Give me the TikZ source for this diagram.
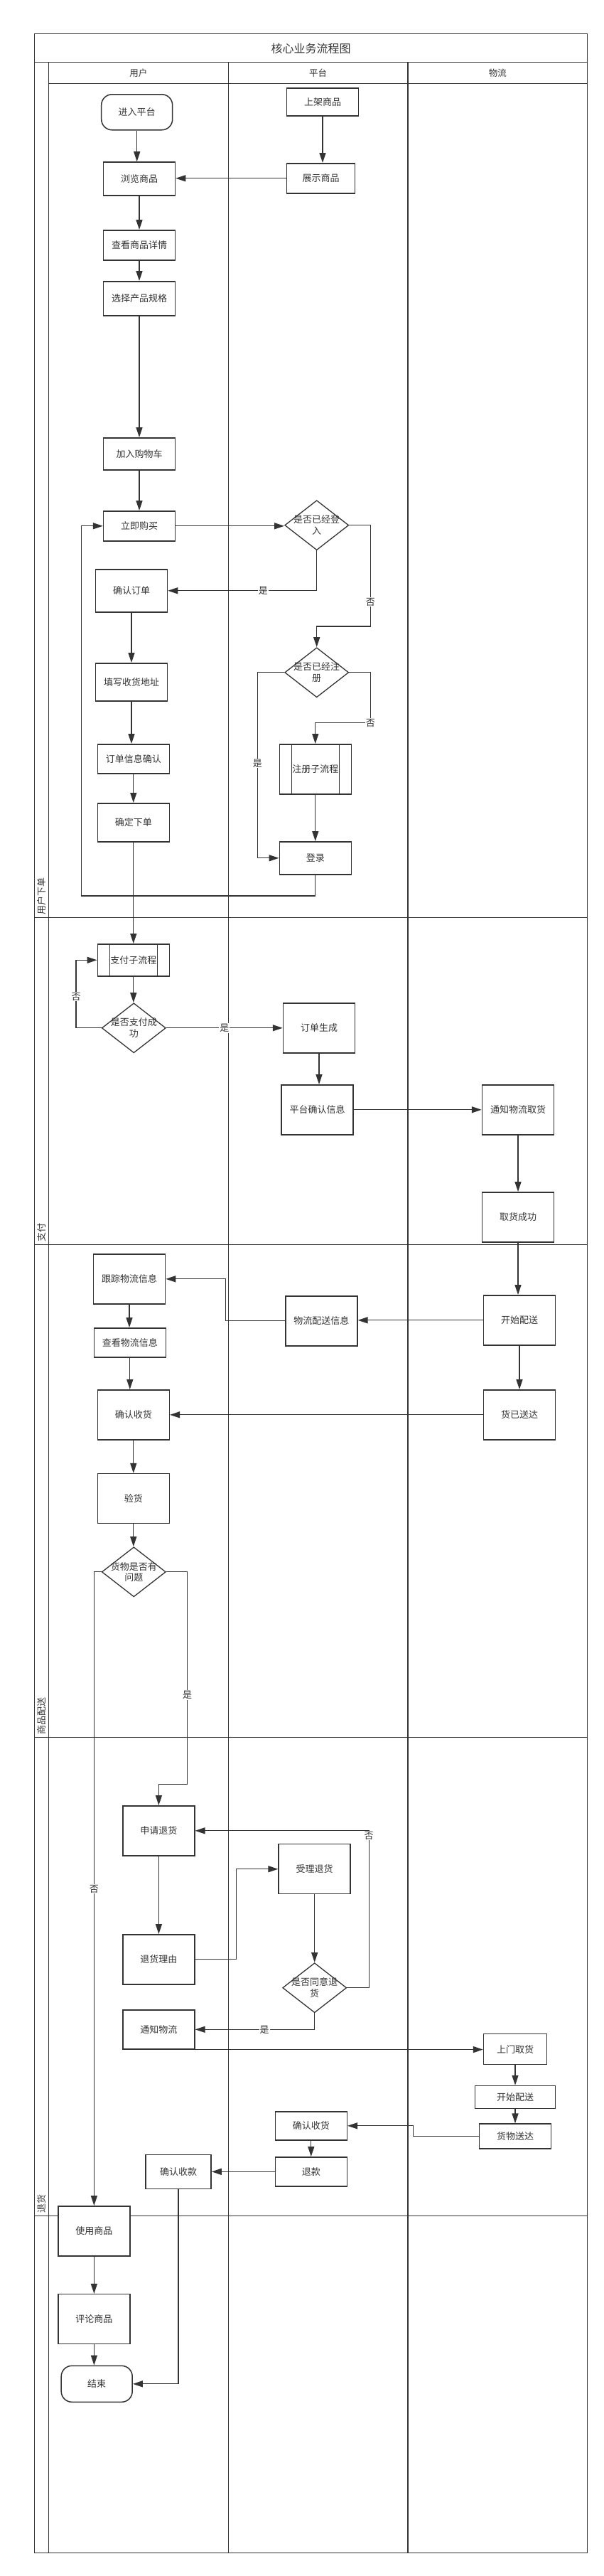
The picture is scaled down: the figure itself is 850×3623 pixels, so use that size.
\documentclass[tikz,border=0pt]{standalone}
\usepackage{fontspec}
\setmainfont{Noto Sans CJK SC}
\usepackage{tikz}
\usetikzlibrary{arrows.meta,shapes.geometric}
\definecolor{linegray}{HTML}{333333}
\tikzstyle{frame}=[draw=linegray,line width=1.3pt]
\tikzstyle{box}=[rectangle,draw=linegray,line width=1.5pt,fill=white,text=linegray,minimum width=101pt,minimum height=70pt,inner sep=0pt,font=\fontsize{13pt}{15.5pt}\selectfont]
\tikzstyle{term}=[box,rounded corners=15pt,minimum width=100pt,minimum height=50pt]
\tikzstyle{sub}=[box,path picture={\draw[linegray,line width=1.2pt] ([xshift=17pt]path picture bounding box.north west) -- ([xshift=17pt]path picture bounding box.south west) ([xshift=-17pt]path picture bounding box.north east) -- ([xshift=-17pt]path picture bounding box.south east);}]
\tikzstyle{decision}=[diamond,draw=linegray,line width=1.3pt,fill=white,minimum width=90pt,minimum height=70pt,inner sep=0pt]
\tikzstyle{dtext}=[align=center,text=linegray,inner sep=0pt,font=\fontsize{13pt}{15.5pt}\selectfont]
\tikzstyle{lbl}=[fill=white,inner sep=1pt,text=linegray,font=\fontsize{13pt}{15pt}\selectfont]
\tikzstyle{line}=[draw=linegray,line width=1.3pt,-{Triangle[length=14pt,width=9pt]}]
\tikzstyle{lane}=[text=linegray,font=\fontsize{12.5pt}{15pt}\selectfont]
\tikzstyle{phase}=[rotate=90,anchor=west,inner sep=0pt,text=linegray,font=\fontsize{13pt}{15pt}\selectfont]
\begin{document}
\begin{tikzpicture}[x=1pt,y=-1pt]
  \useasboundingbox (0,0) rectangle (850,3623);
  % frame
  \draw[frame] (48.2,47.7) rectangle (826.8,3590.7);
  \draw[frame] (48.2,87.7) -- (826.8,87.7);
  \draw[frame] (68.5,117.7) -- (826.8,117.7);
  \draw[frame] (68.5,87.7) -- (68.5,3590.7);
  \draw[frame] (321.3,87.7) -- (321.3,3590.7);
  \draw[frame] (574,87.7) -- (574,3590.7);
  \draw[frame] (48.2,1290.7) -- (826.8,1290.7);
  \draw[frame] (48.2,1750.7) -- (826.8,1750.7);
  \draw[frame] (48.2,2443.7) -- (826.8,2443.7);
  \draw[frame] (48.2,3116.7) -- (826.8,3116.7);
  % headers
  \node[lane,font=\fontsize{16pt}{18pt}\selectfont] (title) at (437.5,68) {核心业务流程图};
  \node[lane] (user) at (194.9,103) {用户};
  \node[lane] (platform) at (447.6,103) {平台};
  \node[lane] (logistics) at (700.4,103) {物流};
  \node[phase] (ph1) at (58.4,1287) {用户下单};
  \node[phase] (ph2) at (58.4,1747) {支付};
  \node[phase] (ph3) at (58.4,2440) {商品配送};
  \node[phase] (ph4) at (58.4,3113) {退货};
  % user lane
  \node[term] (enter) at (192.7,157.8) {进入平台};
  \node[box,minimum height=47pt] (browse) at (196,251.5) {浏览商品};
  \node[box,minimum height=42pt] (detail) at (196,344.8) {查看商品详情};
  \node[box,minimum height=48pt] (spec) at (196,419.8) {选择产品规格};
  \node[box,minimum height=45pt] (cart) at (196,638.3) {加入购物车};
  \node[box,minimum height=42pt] (buy) at (196,739.8) {立即购买};
  \node[box,minimum height=60pt] (confirm) at (185,830.8) {确认订单};
  \node[box,minimum height=53pt] (addr) at (185,959.3) {填写收货地址};
  \node[box,minimum height=41pt] (info) at (187.8,1067.3) {订单信息确认};
  \node[box,minimum height=54pt] (place) at (187.8,1156.8) {确定下单};
  \node[sub,minimum height=45pt] (pay) at (187.8,1350.3) {支付子流程};
  \node[decision,label={[dtext]center:{是否支付成\\功}}] (payq) at (188.3,1445.8) {};
  \node[box] (track) at (182,1798.8) {跟踪物流信息};
  \node[box,minimum height=41pt] (view) at (182.8,1888.3) {查看物流信息};
  \node[box] (recv) at (187.8,1989.8) {确认收货};
  \node[box] (inspect) at (187.8,2107.7) {验货};
  \node[decision,label={[dtext]center:{货物是否有\\问题}}] (goodq) at (188.3,2210.8) {};
  \node[box] (apply) at (223.4,2574.8) {申请退货};
  \node[box] (reason) at (223.4,2755.8) {退货理由};
  \node[box,minimum height=55pt] (lnotify) at (223.4,2854.3) {通知物流};
  \node[box,minimum width=92pt,minimum height=48pt] (rcv) at (251,3054.7) {确认收款};
  \node[box] (use) at (132.4,3137.8) {使用商品};
  \node[box] (review) at (132.4,3261.7) {评论商品};
  \node[term,minimum height=51pt] (end) at (136.2,3352.8) {结束};
  % platform lane
  \node[box,minimum height=39pt] (shelf) at (454,143.3) {上架商品};
  \node[box,minimum width=96pt,minimum height=42pt] (show) at (451.5,250.8) {展示商品};
  \node[decision,label={[dtext]center:{是否已经登\\入}}] (login) at (445.7,738.7) {};
  \node[decision,label={[dtext]center:{是否已经注\\册}}] (regq) at (445.7,945.8) {};
  \node[sub] (reg) at (443.8,1081.8) {注册子流程};
  \node[box,minimum height=46pt] (signin) at (443.8,1206.8) {登录};
  \node[box] (order) at (449,1445.8) {订单生成};
  \node[box] (pconfirm) at (446.5,1560.8) {平台确认信息};
  \node[box] (dinfo) at (452.3,1857.8) {物流配送信息};
  \node[box] (accept) at (442.7,2628.7) {受理退货};
  \node[decision,label={[dtext]center:{是否同意退\\货}}] (agreeq) at (442.7,2795.7) {};
  \node[box,minimum height=40pt] (recv2) at (437.8,2989.8) {确认收货};
  \node[box,minimum height=41pt] (refund) at (437.8,3054.3) {退款};
  % logistics lane
  \node[box] (notify) at (729,1560.8) {通知物流取货};
  \node[box] (pickok) at (729,1711.8) {取货成功};
  \node[box] (ship) at (731,1856.8) {开始配送};
  \node[box] (arrived) at (731,1989.8) {货已送达};
  \node[box,minimum width=89pt,minimum height=43pt] (pickup) at (725,2882) {上门取货};
  \node[box,minimum width=113pt,minimum height=32pt] (ship2) at (725,2949.5) {开始配送};
  \node[box,minimum height=35pt] (done) at (725,3004.7) {货物送达};
  % bends
  \coordinate (n1) at (521.4,881);
  \coordinate (n2) at (521.4,1016.7);
  \coordinate (n3) at (362.4,1206.8);
  \coordinate (n4) at (114.6,1260);
  \coordinate (n5) at (107,1350.3);
  \coordinate (n6) at (317.4,1798.8);
  \coordinate (n7) at (263.7,2509.7);
  \coordinate (n8) at (332.8,2755.8);
  \coordinate (n9) at (519.2,2795.7);
  \coordinate (n10) at (581.7,3004.7);
  % ordering
  \draw[line] (enter.south) -- (enter.south |- browse.north);
  \draw[line] (shelf.south) -- (shelf.south |- show.north);
  \draw[line] (show.west) -- (show.west -| browse.east);
  \draw[line] (browse) -- (detail);
  \draw[line] (detail) -- (spec);
  \draw[line] (spec) -- (cart);
  \draw[line] (cart) -- (buy);
  \draw[line] (buy.east) -- (buy.east -| login.west);
  \draw[line] (login.south) |- node[lbl,pos=0.68] {是} (confirm.east);
  \draw[line] (login.east) -| node[lbl,pos=0.88] {否} (n1) -| (regq.north);
  \draw[line] (regq.east) -| (n2) node[lbl] {否} -| (reg.north);
  \draw[line] (regq.west) -| node[lbl,pos=0.745] {是} (n3) -- (signin.west);
  \draw[line] (reg) -- (signin);
  \draw[line] (signin.south) |- (n4) |- (buy.west);
  \draw[line] (confirm) -- (addr);
  \draw[line] (addr.south) -- (addr.south |- info.north);
  \draw[line] (info) -- (place);
  % payment
  \draw[line] (place) -- (pay);
  \draw[line] (pay.south) -- (pay.south |- payq.north);
  \draw[line] (payq.west) -| node[lbl,pos=0.73] {否} (n5) -- (pay.west);
  \draw[line] (payq.east) -- node[lbl] {是} (payq.east -| order.west);
  \draw[line] (order.south) -- (order.south |- pconfirm.north);
  \draw[line] (pconfirm) -- (notify);
  \draw[line] (notify) -- (pickok);
  % delivery
  \draw[line] (pickok.south) -- (pickok.south |- ship.north);
  \draw[line] (ship.west) -- (ship.west -| dinfo.east);
  \draw[line] (dinfo.west) -| (n6) -- (track.east);
  \draw[line] (track.south) -- (track.south |- view.north);
  \draw[line] (view.south) -- (view.south |- recv.north);
  \draw[line] (ship) -- (arrived);
  \draw[line] (arrived) -- (recv);
  \draw[line] (recv) -- (inspect);
  \draw[line] (inspect.south) -- (inspect.south |- goodq.north);
  \draw[line] (goodq.west) -| node[lbl,pos=0.75] {否} (use.north);
  \draw[line] (goodq.east) -| node[lbl,pos=0.79] {是} (n7) -| (apply.north);
  % returns
  \draw[line] (apply) -- (reason);
  \draw[line] (reason.east) -- (n8) |- (accept.west);
  \draw[line] (accept.south) -- (accept.south |- agreeq.north);
  \draw[line] (agreeq.east) -- (n9) |- node[lbl,pos=0.485] {否} (apply.east);
  \draw[line] (agreeq.south) |- node[lbl,pos=0.71] {是} (lnotify.east);
  \draw[line] (lnotify.south) -- (lnotify.south -| pickup.west);
  \draw[line] (pickup) -- (ship2);
  \draw[line] (ship2) -- (done);
  \draw[line] (done.west) -- (n10) |- (recv2.east);
  \draw[line] (recv2) -- (refund);
  \draw[line] (refund.west) -- (refund.west -| rcv.east);
  \draw[line] (rcv.south) |- (end.east);
  % end
  \draw[line] (use) -- (review);
  \draw[line] (review.south) -- (review.south |- end.north);
\end{tikzpicture}
\end{document}
